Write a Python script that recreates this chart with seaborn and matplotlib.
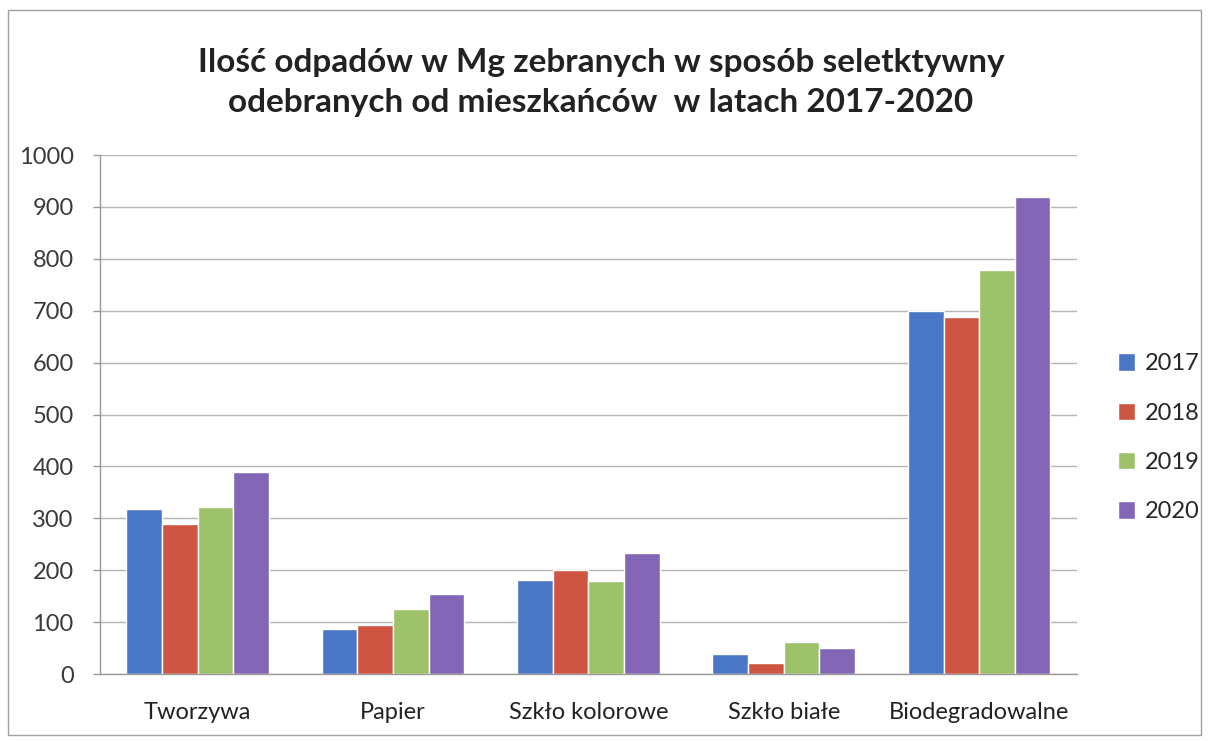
import pandas as pd
import matplotlib.pyplot as plt
import seaborn as sns
from matplotlib.patches import Rectangle

# Data
categories = ['Tworzywa', 'Papier', 'Szkło kolorowe', 'Szkło białe', 'Biodegradowalne']
years = ['2017', '2018', '2019', '2020']
v2017 = [318, 87, 182, 38, 700]
v2018 = [289, 94, 200, 22, 688]
v2019 = [321, 125, 180, 61, 778]
v2020 = [390, 154, 233, 50, 920]
colors = ['#4A76C6', '#CF5543', '#9DC26A', '#8466B6']

rows = []
for year, vals in zip(years, [v2017, v2018, v2019, v2020]):
    for cat, v in zip(categories, vals):
        rows.append({'kategoria': cat, 'rok': year, 'Mg': v})
df = pd.DataFrame(rows)

sns.set_style('white')
plt.rcParams['font.family'] = ['Lato', 'DejaVu Sans']

fig = plt.figure(figsize=(12.09, 7.41), dpi=100)
ax = fig.add_axes([0.0827, 0.0904, 0.808, 0.7004])

sns.barplot(data=df, x='kategoria', y='Mg', hue='rok', order=categories,
            hue_order=years, palette=colors, width=0.73, gap=0,
            saturation=1, ax=ax, errorbar=None)

ax.set_ylim(0, 1000)
ax.set_yticks(range(0, 1001, 100))
ax.set_xlim(-0.5, len(categories) - 0.5)
ax.yaxis.grid(True, color='#b5b5b5', linewidth=1)
ax.set_axisbelow(True)
ax.set_xlabel('')
ax.set_ylabel('')
for side in ['top', 'right']:
    ax.spines[side].set_visible(False)
for side in ['left', 'bottom']:
    ax.spines[side].set_color('#9a9a9a')
    ax.spines[side].set_linewidth(1)
ax.tick_params(axis='y', labelsize=17, colors='#9a9a9a', labelcolor='#3a3a3a',
               length=5, width=1, left=True, pad=14)
ax.tick_params(axis='x', labelsize=17, labelcolor='#222222', length=0, pad=20)

leg = ax.legend(loc='center left', bbox_to_anchor=(1.02, 0.455), frameon=False,
                fontsize=17, handlelength=0.75, handleheight=0.75,
                handletextpad=0.4, labelspacing=1.2)

fig.text(0.497, 0.889, 'Ilość odpadów w Mg zebranych w sposób seletktywny\n'
         'odebranych od mieszkańców  w latach 2017-2020',
         ha='center', va='center', fontsize=24, fontweight='bold',
         color='#222222', linespacing=1.45)

# outer chart border
fig.patches.append(Rectangle((0.007, 0.008), 0.986, 0.978, transform=fig.transFigure,
                             fill=False, edgecolor='#a0a0a0', linewidth=1))

fig.savefig('out.png', dpi=100)
